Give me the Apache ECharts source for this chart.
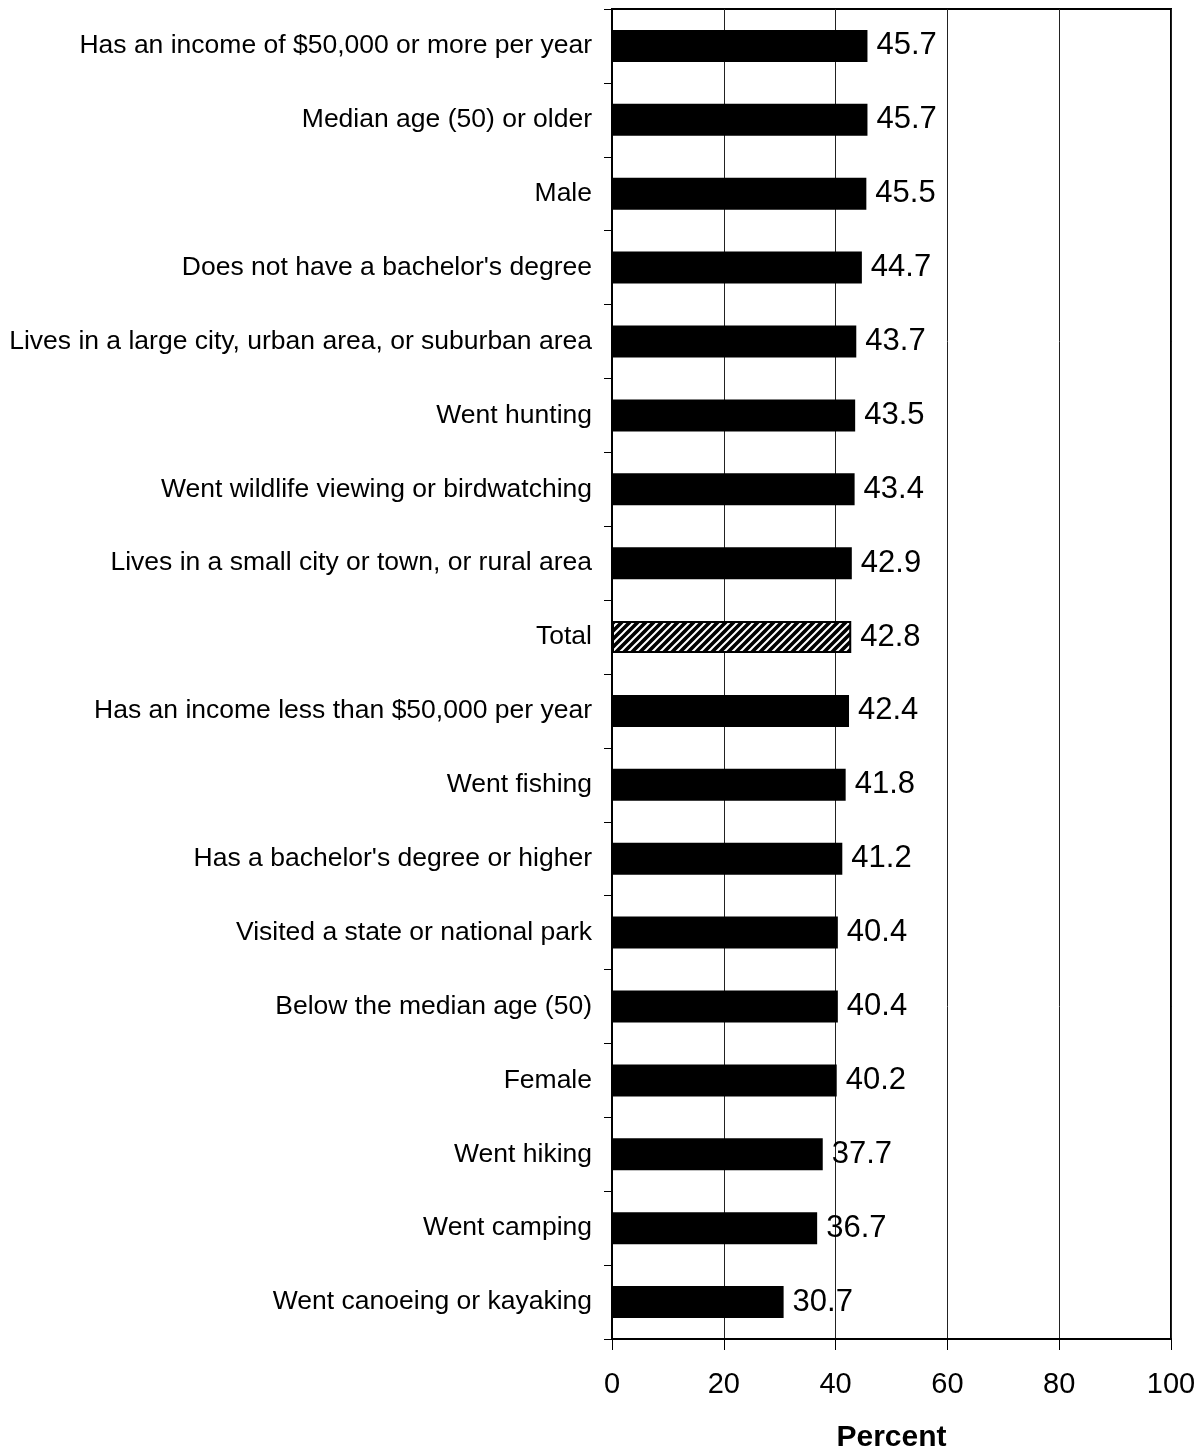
<!DOCTYPE html>
<html>
<head>
<meta charset="utf-8">
<script src="https://cdn.jsdelivr.net/npm/echarts@6/dist/echarts.min.js"></script>
<style>
  html, body { margin: 0; padding: 0; background: #fff; }
  #chart { width: 1202px; height: 1454px; }
</style>
</head>
<body>
<div id="chart"></div>
<script>
// Share of each group, top to bottom
const categories = [
  "Has an income of $50,000 or more per year",
  "Median age (50) or older",
  "Male",
  "Does not have a bachelor's degree",
  "Lives in a large city, urban area, or suburban area",
  "Went hunting",
  "Went wildlife viewing or birdwatching",
  "Lives in a small city or town, or rural area",
  "Total",
  "Has an income less than $50,000 per year",
  "Went fishing",
  "Has a bachelor's degree or higher",
  "Visited a state or national park",
  "Below the median age (50)",
  "Female",
  "Went hiking",
  "Went camping",
  "Went canoeing or kayaking"
];
const values = [45.7, 45.7, 45.5, 44.7, 43.7, 43.5, 43.4, 42.9, 42.8, 42.4, 41.8, 41.2, 40.4, 40.4, 40.2, 37.7, 36.7, 30.7];
const highlightCategory = "Total";
const xTicks = [0, 20, 40, 60, 80, 100];

// Diagonal hatch used for the overall total
function hatchPattern() {
  const s = 8;
  const c = document.createElement('canvas');
  c.width = s; c.height = s;
  const g = c.getContext('2d');
  g.fillStyle = '#000';
  g.fillRect(0, 0, s, s);
  g.strokeStyle = '#fff';
  g.lineWidth = 2;
  g.beginPath();
  g.moveTo(-2, s + 2); g.lineTo(s + 2, -2);
  g.moveTo(-2, 2); g.lineTo(2, -2);
  g.moveTo(s - 2, s + 2); g.lineTo(s + 2, s - 2);
  g.stroke();
  return c;
}
const hatch = { image: hatchPattern(), repeat: 'repeat' };

const FONT = "'Liberation Sans', Arial, Helvetica, sans-serif";

const barData = categories.map((name, i) => {
  const isTotal = name === highlightCategory;
  return {
    value: values[i],
    itemStyle: isTotal
      ? { color: hatch, borderColor: '#000', borderWidth: 2 }
      : { color: '#000' }
  };
});

const chart = echarts.init(document.getElementById('chart'), null, { renderer: 'canvas' });
chart.setOption({
  animation: false,
  backgroundColor: '#fff',
  grid: {
    left: 612, right: 31, top: 9, bottom: 115,
    containLabel: false,
    outerBoundsMode: 'none',
    show: true, borderColor: '#000', borderWidth: 2, backgroundColor: 'transparent'
  },
  xAxis: {
    type: 'value',
    min: xTicks[0], max: xTicks[xTicks.length - 1], interval: 20,
    name: 'Percent',
    nameLocation: 'middle',
    nameGap: 84,
    nameTextStyle: { fontFamily: FONT, fontSize: 30, fontWeight: 'bold', color: '#000' },
    axisLine: { show: true, lineStyle: { color: '#000', width: 2 } },
    axisTick: { show: true, inside: false, length: 11, lineStyle: { color: '#000', width: 1 } },
    axisLabel: { fontFamily: FONT, fontSize: 29, color: '#000', margin: 31 },
    splitLine: { show: true, lineStyle: { color: '#222', width: 1 } }
  },
  yAxis: {
    type: 'category',
    data: categories,
    inverse: true,
    axisLine: { show: true, lineStyle: { color: '#000', width: 2 } },
    axisTick: { show: true, inside: false, length: 8, lineStyle: { color: '#000', width: 1 } },
    axisLabel: { fontFamily: FONT, fontSize: 26.5, color: '#000', margin: 20 },
    splitLine: { show: false }
  },
  series: [{
    type: 'bar',
    data: barData,
    barWidth: 32,
    label: {
      show: true,
      position: 'right',
      distance: 9,
      fontFamily: FONT,
      fontSize: 31,
      color: '#000',
      formatter: p => p.value.toFixed(1)
    }
  }]
});
</script>
</body>
</html>
